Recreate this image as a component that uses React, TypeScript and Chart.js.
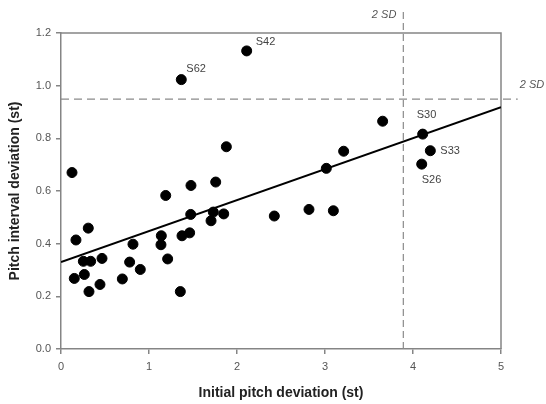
import React, { useEffect, useRef } from "react";
import { Chart, registerables } from "chart.js";

Chart.register(...registerables);

// Data
const xValues = [
  2.11, 1.367, 0.125, 1.879, 1.19, 1.477, 1.758, 3.655, 4.11, 4.197, 4.099, 3.212, 3.015,
  2.424, 2.818, 3.095, 0.17, 0.31, 0.151, 0.265, 0.254, 0.337, 0.318, 0.466, 0.443, 0.697,
  0.78, 0.818, 0.901, 1.14, 1.136, 1.212, 1.356, 1.375, 1.462, 1.474, 1.705, 1.731, 1.849,
];
const yValues = [
  1.132, 1.023, 0.67, 0.768, 0.583, 0.621, 0.634, 0.865, 0.816, 0.753, 0.702, 0.751, 0.686,
  0.505, 0.53, 0.525, 0.414, 0.459, 0.268, 0.283, 0.333, 0.333, 0.218, 0.344, 0.245, 0.266,
  0.33, 0.398, 0.302, 0.43, 0.396, 0.342, 0.218, 0.43, 0.441, 0.511, 0.487, 0.52, 0.513,
];
const pointLabels = ["S42", "S62", "", "", "", "", "", "", "S30", "S33", "S26"];
const labelOffsets: Record<string, [number, number]> = {
  S42: [9, -9],
  S62: [5, -11],
  S30: [-6, -19],
  S33: [10, 0],
  S26: [0, 16],
};
const fitX = [0, 5];
const fitY = [0.33, 0.918];
const sdX = 3.89; // 2 SD of initial pitch deviation
const sdY = 0.949; // 2 SD of pitch interval deviation
const sdLineTopY = 1.28;
const sdLineRightX = 5.19;
const xTickValues = [0, 1, 2, 3, 4, 5];
const yTickValues = [0, 0.2, 0.4, 0.6, 0.8, 1.0, 1.2];
const xTitle = "Initial pitch deviation (st)";
const yTitle = "Pitch interval deviation (st)";
const sdLabel = "2 SD";

const AXIS_COLOR = "#858585";
const TEXT_COLOR = "#555555";
const FONT = "'Liberation Sans', Arial, sans-serif";

export default function App() {
  const ref = useRef<HTMLCanvasElement | null>(null);

  useEffect(() => {
    if (!ref.current) return;
    const annotations = {
      id: "annotations",
      beforeDatasetsDraw(chart: any) {
        const { ctx, chartArea } = chart;
        ctx.save();
        ctx.strokeStyle = AXIS_COLOR;
        ctx.lineWidth = 1.5;
        ctx.beginPath();
        ctx.moveTo(chartArea.left, chartArea.top);
        ctx.lineTo(chartArea.right, chartArea.top);
        ctx.lineTo(chartArea.right, chartArea.bottom);
        ctx.stroke();
        ctx.restore();
      },
      afterDatasetsDraw(chart: any) {
        const { ctx } = chart;
        const xs = chart.scales.x;
        const ys = chart.scales.y;
        ctx.save();
        ctx.fillStyle = "#444";
        ctx.font = `11px ${FONT}`;
        ctx.textBaseline = "middle";
        ctx.textAlign = "left";
        pointLabels.forEach((lab, i) => {
          if (!lab) return;
          const px = xs.getPixelForValue(xValues[i]);
          const py = ys.getPixelForValue(yValues[i]);
          const [dx, dy] = labelOffsets[lab];
          ctx.fillText(lab, px + dx, py + dy);
        });
        ctx.fillStyle = TEXT_COLOR;
        ctx.font = `italic 11px ${FONT}`;
        const vx = xs.getPixelForValue(sdX);
        const vtop = ys.getPixelForValue(sdLineTopY);
        ctx.textAlign = "right";
        ctx.fillText(sdLabel, vx - 7, vtop + 3);
        const hy = ys.getPixelForValue(sdY);
        const hr = xs.getPixelForValue(sdLineRightX);
        ctx.textAlign = "left";
        ctx.fillText(sdLabel, hr + 2, hy - 14);
        ctx.restore();
      },
    };

    const chart = new Chart(ref.current, {
      type: "scatter",
      data: {
        datasets: [
          {
            type: "line",
            data: [
              { x: sdX, y: 0 },
              { x: sdX, y: sdLineTopY },
            ],
            borderColor: "#8a8a8a",
            borderWidth: 1.2,
            borderDash: [7, 4],
            pointRadius: 0,
            clip: false,
          } as any,
          {
            type: "line",
            data: [
              { x: 0, y: sdY },
              { x: sdLineRightX, y: sdY },
            ],
            borderColor: "#8a8a8a",
            borderWidth: 1.2,
            borderDash: [8, 5],
            pointRadius: 0,
            clip: false,
          } as any,
          {
            type: "line",
            data: fitX.map((x, i) => ({ x, y: fitY[i] })),
            borderColor: "#000",
            borderWidth: 2,
            pointRadius: 0,
          } as any,
          {
            data: xValues.map((x, i) => ({ x, y: yValues[i] })),
            backgroundColor: "#000",
            borderColor: "#000",
            pointRadius: 5,
            pointHoverRadius: 5,
          },
        ],
      },
      options: {
        responsive: false,
        animation: false,
        events: [],
        layout: { padding: { top: 33, right: 45, left: 0, bottom: 0 } },
        plugins: { legend: { display: false }, tooltip: { enabled: false } },
        scales: {
          x: {
            type: "linear",
            min: 0,
            max: 5,
            afterBuildTicks: (s: any) => {
              s.ticks = xTickValues.map((v) => ({ value: v }));
            },
            afterFit: (s: any) => {
              s.height = 55;
            },
            ticks: {
              color: TEXT_COLOR,
              font: { family: FONT, size: 11 },
              padding: 6,
              callback: (v: any) => String(v),
            },
            grid: {
              display: true,
              drawOnChartArea: false,
              drawTicks: true,
              tickLength: 5,
              color: AXIS_COLOR,
              lineWidth: 1.5,
            },
            border: { display: true, color: AXIS_COLOR, width: 1.5 },
            title: {
              display: true,
              text: xTitle,
              color: "#222",
              font: { family: FONT, size: 14, weight: "bold" },
              padding: { bottom: 2, top: 0 },
            },
          },
          y: {
            type: "linear",
            min: 0,
            max: 1.2,
            afterBuildTicks: (s: any) => {
              s.ticks = yTickValues.map((v) => ({ value: v }));
            },
            afterFit: (s: any) => {
              s.width = 61;
            },
            ticks: {
              color: TEXT_COLOR,
              font: { family: FONT, size: 11 },
              padding: 5,
              callback: (v: any) => Number(v).toFixed(1),
            },
            grid: {
              display: true,
              drawOnChartArea: false,
              drawTicks: true,
              tickLength: 5,
              color: AXIS_COLOR,
              lineWidth: 1.5,
            },
            border: { display: true, color: AXIS_COLOR, width: 1.5 },
            title: {
              display: true,
              text: yTitle,
              color: "#222",
              font: { family: FONT, size: 14, weight: "bold" },
              padding: { top: 7, bottom: 0 },
            },
          },
        },
      },
      plugins: [annotations],
    } as any);
    return () => chart.destroy();
  }, []);

  return (
    <div style={{ position: "absolute", left: 0, top: 0, width: 546, height: 404, background: "#fff" }}>
      <canvas ref={ref} width={546} height={404} style={{ display: "block" }} />
    </div>
  );
}
